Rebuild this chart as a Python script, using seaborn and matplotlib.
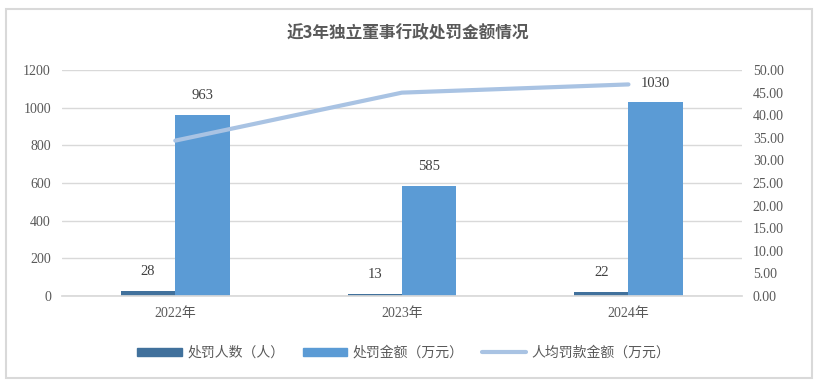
import pandas as pd
import matplotlib.pyplot as plt
import matplotlib.patches as mpatches
import seaborn as sns
import numpy as np

# 数据
years = ["2022年", "2023年", "2024年"]
people = [28, 13, 22]
amount = [963, 585, 1030]
avg_fine = [34.39, 45.00, 46.82]
series_names = ["处罚人数（人）", "处罚金额（万元）", "人均罚款金额（万元）"]

sns.set_theme(style="white")
plt.rcParams["font.family"] = ["Liberation Serif", "Noto Sans CJK SC", "DejaVu Sans"]

df = pd.DataFrame({
    "year": years * 2,
    "value": people + amount,
    "series": [series_names[0]] * 3 + [series_names[1]] * 3,
})

fig = plt.figure(figsize=(8.16, 3.87), dpi=100)
ax = fig.add_axes([0.076, 0.235, 0.833, 0.584])

sns.barplot(data=df, x="year", y="value", hue="series", ax=ax,
            palette=["#41719C", "#5B9BD5"], width=0.48, saturation=1,
            linewidth=0, legend=False)

for cont in ax.containers:
    ax.bar_label(cont, padding=9, fontsize=10.5, color="#404040")

ax.set_ylim(0, 1200)
ax.set_yticks(range(0, 1201, 200))
ax.set_xlim(-0.5, 2.5)
ax.set_xlabel("")
ax.set_ylabel("")
ax.yaxis.grid(True, color="#D9D9D9", linewidth=1)
ax.set_axisbelow(True)
for s in ax.spines.values():
    s.set_visible(False)
ax.spines["bottom"].set_visible(True)
ax.spines["bottom"].set_color("#D9D9D9")
ax.tick_params(axis="both", length=0, labelsize=10, labelcolor="#595959", pad=8)

ax2 = ax.twinx()
sns.lineplot(x=np.arange(len(years)), y=avg_fine, ax=ax2, color="#A9C3E3",
             linewidth=3, label=series_names[2], legend=False)
ax2.set_ylim(0, 50)
ax2.set_yticks(np.arange(0, 50.1, 5))
ax2.set_yticklabels([f"{v:.2f}" for v in np.arange(0, 50.1, 5)])
for s in ax2.spines.values():
    s.set_visible(False)
ax2.tick_params(axis="y", length=0, labelsize=10, labelcolor="#595959", pad=8)

fig.text(0.5, 0.915, "近3年独立董事行政处罚金额情况", ha="center", va="center",
         fontsize=12, fontweight="bold", color="#595959",
         family=["Noto Sans CJK SC", "DejaVu Sans"])

handles = [mpatches.Patch(color="#41719C"), mpatches.Patch(color="#5B9BD5"),
           plt.Line2D([], [], color="#A9C3E3", linewidth=3)]
fig.legend(handles, series_names, loc="center", bbox_to_anchor=(0.495, 0.088),
           ncol=3, frameon=False, handlelength=3.2, handleheight=0.6,
           columnspacing=1.3, handletextpad=0.4,
           prop={"family": ["Noto Sans CJK SC", "DejaVu Sans"], "size": 10})
for t in fig.legends[0].get_texts():
    t.set_color("#595959")

border = mpatches.Rectangle((6 / 816, 9 / 387), 806 / 816, 369 / 387,
                            transform=fig.transFigure, fill=False,
                            edgecolor="#D9D9D9", linewidth=1.5)
fig.patches.append(border)

fig.savefig("out.png", dpi=100)
